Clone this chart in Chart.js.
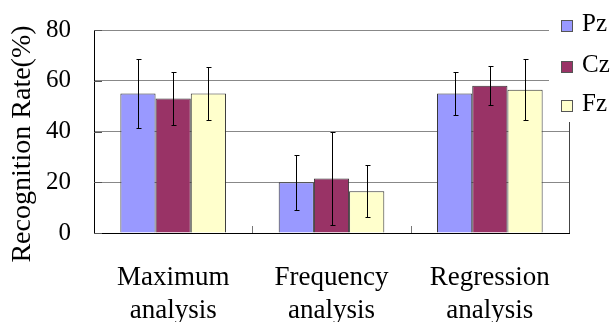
<!DOCTYPE html>
<html>
<head>
<meta charset="utf-8">
<script src="https://cdn.jsdelivr.net/npm/chart.js@4"></script>
</head>
<body style="margin:0">
<canvas id="myChart" width="612" height="322"></canvas>
<script>
var categories = [['Maximum', 'analysis'], ['Frequency', 'analysis'], ['Regression', 'analysis']];
var seriesNames = ['Pz', 'Cz', 'Fz'];
var pzValues = [55, 20, 55];
var czValues = [53, 21.5, 58];
var fzValues = [55, 16.5, 56.5];
var pzErrors = [13.7, 10.8, 8.5];
var czErrors = [10.3, 18.3, 7.7];
var fzErrors = [10.3, 10.3, 12];
var yTicks = [0, 20, 40, 60, 80];
var yTitle = 'Recognition Rate(%)';

var fontFam = '"Liberation Serif", "Times New Roman", Times, "DejaVu Serif", "Noto Serif", serif';
var colors = ['#9999FF', '#993366', '#FFFFCC'];
var errors = [pzErrors, czErrors, fzErrors];
Chart.defaults.font.family = fontFam;

// error bars, inner tick marks, y title, legend box over the top right corner
var extras = {
  id: 'extras',
  afterDatasetsDraw: function(chart) {
    var ctx = chart.ctx;
    var x = chart.scales.x, y = chart.scales.y;
    var area = chart.chartArea;
    ctx.save();
    ctx.strokeStyle = '#000';
    ctx.lineWidth = 1;
    chart.data.datasets.forEach(function(ds, di) {
      var meta = chart.getDatasetMeta(di);
      meta.data.forEach(function(bar, i) {
        var v = ds.data[i], e = errors[di][i];
        var bx = Math.round(bar.x) + 0.5;
        var top = Math.round(y.getPixelForValue(v + e)) + 0.5, bot = Math.round(y.getPixelForValue(v - e)) + 0.5;
        ctx.beginPath();
        ctx.moveTo(bx, top); ctx.lineTo(bx, bot);
        ctx.moveTo(bx - 2, top); ctx.lineTo(bx + 3, top);
        ctx.moveTo(bx - 2, bot); ctx.lineTo(bx + 3, bot);
        ctx.stroke();
      });
    });
    // category boundary ticks
    ctx.strokeStyle = '#777';
    for (var i = 0; i < categories.length - 1; i++) {
      var px = Math.round((x.getPixelForValue(i) + x.getPixelForValue(i + 1)) / 2) + 0.5;
      ctx.beginPath();
      ctx.moveTo(px, area.bottom); ctx.lineTo(px, area.bottom - 7);
      ctx.stroke();
    }
    // y inner ticks
    ctx.strokeStyle = '#555';
    yTicks.forEach(function(t) {
      var py = Math.round(y.getPixelForValue(t)) + 0.5;
      ctx.beginPath();
      ctx.moveTo(area.left, py); ctx.lineTo(area.left + 8, py);
      ctx.stroke();
    });
    // right border
    ctx.strokeStyle = '#444';
    ctx.beginPath();
    ctx.moveTo(Math.round(area.right) + 0.5, area.bottom);
    ctx.lineTo(Math.round(area.right) + 0.5, 122);
    ctx.stroke();
    // y title
    ctx.fillStyle = '#000';
    ctx.font = '28px ' + fontFam;
    ctx.textAlign = 'center';
    ctx.textBaseline = 'middle';
    ctx.save();
    ctx.translate(23, 144);
    ctx.rotate(-Math.PI / 2);
    ctx.fillText(yTitle, 0, 0);
    ctx.restore();
    // legend
    ctx.fillStyle = '#fff';
    ctx.fillRect(549, 0, 63, 121);
    ctx.font = '25px ' + fontFam;
    ctx.textBaseline = 'alphabetic';
    ctx.textAlign = 'left';
    var rowsY = [31, 72, 111];
    seriesNames.forEach(function(n, i) {
      ctx.fillStyle = colors[i];
      ctx.fillRect(561.5, rowsY[i] - 10.5, 11, 11);
      ctx.strokeStyle = '#555';
      ctx.strokeRect(561.5, rowsY[i] - 10.5, 11, 11);
      ctx.fillStyle = '#000';
      ctx.fillText(n, 582, rowsY[i]);
    });
    ctx.restore();
  }
};

var data = {
  labels: categories,
  datasets: seriesNames.map(function(n, i) {
    return {
      label: n,
      data: [pzValues, czValues, fzValues][i],
      backgroundColor: colors[i],
      borderColor: '#333',
      borderWidth: 1,
      categoryPercentage: 0.667,
      barPercentage: 1.0
    };
  })
};

var config = {
  type: 'bar',
  data: data,
  options: {
    responsive: false,
    animation: false,
    layout: { padding: { left: 0, top: 30, right: 43, bottom: 0 } },
    plugins: { legend: { display: false }, tooltip: { enabled: false } },
    scales: {
      x: {
        grid: { display: false, drawTicks: false },
        border: { display: true, color: '#000', width: 1 },
        ticks: { color: '#000', padding: 28, maxRotation: 0, font: { family: fontFam, size: 27, lineHeight: 1.22 } },
        afterFit: function(s) { s.height = 89; s.paddingLeft = 0; s.paddingRight = 0; }
      },
      y: {
        min: 0,
        max: 80,
        grid: { color: '#888', drawTicks: false },
        border: { display: true, color: '#000', width: 1 },
        ticks: {
          stepSize: 20, color: '#000', padding: 23,
          font: { family: fontFam, size: 25 }
        },
        afterFit: function(s) { s.width = 94; s.paddingTop = 0; s.paddingBottom = 0; }
      }
    }
  },
  plugins: [extras]
};

var ctx = document.getElementById('myChart').getContext('2d');
var myChart = new Chart(ctx, config);
</script>
</body>
</html>
